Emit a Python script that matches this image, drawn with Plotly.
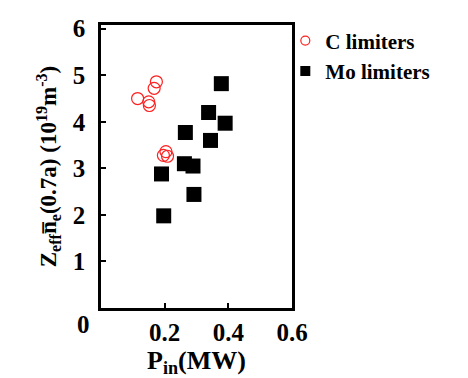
import plotly.graph_objects as go

c_x = [0.115, 0.150, 0.152, 0.167, 0.174, 0.196, 0.204, 0.209]
c_y = [4.50, 4.43, 4.35, 4.72, 4.86, 3.28, 3.36, 3.26]
mo_x = [0.378, 0.338, 0.390, 0.344, 0.265, 0.262, 0.289, 0.190, 0.292, 0.197]
mo_y = [4.82, 4.20, 3.97, 3.60, 3.77, 3.10, 3.05, 2.88, 2.44, 1.98]

xticks = [0.2, 0.4, 0.6]
yticks = [1, 2, 3, 4, 5, 6]

font = "Liberation Serif"
red = "#ff2020"

fig = go.Figure()
fig.add_trace(go.Scatter(x=c_x, y=c_y, mode="markers", name="<b>C limiters</b>",
                         legendgroup="c", showlegend=False,
                         marker=dict(symbol="circle-open", size=12, color=red,
                                     line=dict(width=1.2, color=red))))
fig.add_trace(go.Scatter(x=mo_x, y=mo_y, mode="markers", name="<b>Mo limiters</b>",
                         legendgroup="mo", showlegend=False,
                         marker=dict(symbol="square", size=15, color="black")))
# legend entries with the small symbols of the reference
fig.add_trace(go.Scatter(x=[None], y=[None], mode="markers", name="<b>C limiters</b>",
                         legendgroup="c",
                         marker=dict(symbol="circle-open", size=9, color=red,
                                     line=dict(width=1.2, color=red))))
fig.add_trace(go.Scatter(x=[None], y=[None], mode="markers", name="<b>Mo limiters</b>",
                         legendgroup="mo",
                         marker=dict(symbol="square", size=10, color="black")))

# body of the page has an 8px default margin, so the figure is offset by (8, 8)
fig.update_layout(
    width=468, height=378,
    margin=dict(l=93, r=184, t=17, b=78),
    plot_bgcolor="white", paper_bgcolor="white",
    font=dict(family=font, size=25, color="black"),
    showlegend=True,
    legend=dict(x=0.965, y=1.016, xanchor="left", yanchor="top",
                font=dict(family=font, size=21, color="black"),
                itemwidth=30, tracegroupgap=0, bgcolor="rgba(0,0,0,0)"),
)
fig.update_xaxes(range=[0, 0.6], tickvals=xticks, ticktext=["<b>%g</b>" % v for v in xticks],
                 ticks="inside", ticklen=5, tickwidth=2, tickcolor="black",
                 showline=True, linewidth=2.5, linecolor="black", mirror=True,
                 showgrid=False, zeroline=False, automargin=False,
                 title=dict(text="<b>P<sub>in</sub>(MW)</b>", font=dict(family=font, size=26), standoff=6))
fig.update_yaxes(range=[0, 6.08], tickvals=yticks, ticktext=["<b>%d</b>" % v for v in yticks],
                 ticks="inside", ticklen=5, tickwidth=2, tickcolor="black",
                 showline=True, linewidth=2.5, linecolor="black", mirror=True,
                 showgrid=False, zeroline=False, automargin=False, ticklabelstandoff=8,
                 title=dict(text="<b>Z<sub>eff</sub>n\u0305<sub>e</sub>(0.7a) (10<sup>19</sup>m<sup>-3</sup>)</b>",
                            font=dict(family=font, size=23), standoff=10))
fig.add_annotation(x=-0.094, y=-0.06, xref="paper", yref="paper", text="<b>0</b>", showarrow=False,
                   xanchor="center", yanchor="middle", font=dict(family=font, size=25, color="black"))

fig.write_html("out.html")
